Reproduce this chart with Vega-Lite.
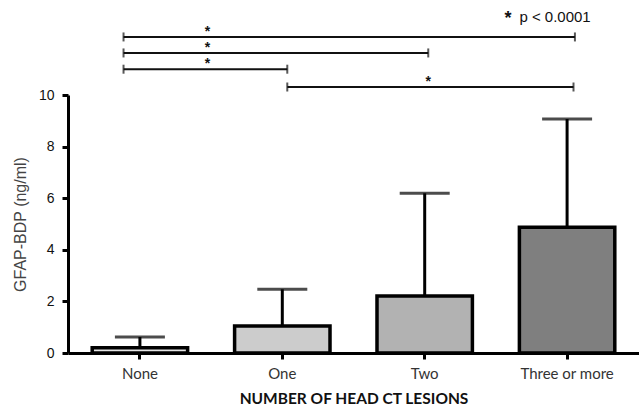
{
  "$schema": "https://vega.github.io/schema/vega-lite/v6.json",
  "width": 571,
  "height": 258,
  "autosize": {"type": "none"},
  "padding": {"left": 68, "top": 95, "right": 0, "bottom": 60},
  "background": "white",
  "config": {"view": {"stroke": null}},
  "resolve": {"scale": {"x": "independent"}},
  "layer": [
    {
      "data": {"values": [
        {"group": "None", "mean": 0.2, "upper": 0.62, "shade": "a"},
        {"group": "One", "mean": 1.05, "upper": 2.47, "shade": "b"},
        {"group": "Two", "mean": 2.21, "upper": 6.19, "shade": "c"},
        {"group": "Three or more", "mean": 4.87, "upper": 9.07, "shade": "d"}
      ]},
      "encoding": {
        "x": {
          "field": "group", "type": "nominal", "sort": null,
          "scale": {"paddingInner": 0.33, "paddingOuter": 0.17},
          "axis": {
            "title": "NUMBER OF HEAD CT LESIONS",
            "labelAngle": 0,
            "labelFont": "Lato", "labelFontSize": 15, "labelColor": "#333",
            "titleFont": "Lato", "titleFontSize": 15.5, "titleFontWeight": "bold", "titleColor": "#111",
            "domainColor": "black", "domainWidth": 3,
            "tickColor": "black", "tickWidth": 3, "tickSize": 6,
            "labelPadding": 7, "titlePadding": 10
          }
        }
      },
      "layer": [
        {
          "mark": {"type": "rule", "strokeWidth": 3, "color": "black"},
          "encoding": {
            "y": {"field": "mean", "type": "quantitative"},
            "y2": {"field": "upper"}
          }
        },
        {
          "mark": {"type": "tick", "orient": "horizontal", "size": 50, "thickness": 3, "color": "black"},
          "encoding": {"y": {"field": "upper", "type": "quantitative"}}
        },
        {
          "mark": {"type": "bar", "stroke": "black", "strokeWidth": 3.5, "opacity": 1},
          "encoding": {
            "y": {
              "field": "mean", "type": "quantitative",
              "scale": {"domain": [0, 10], "nice": false},
              "axis": {
                "title": "GFAP-BDP (ng/ml)",
                "values": [0, 2, 4, 6, 8, 10],
                "grid": false,
                "labelFont": "Liberation Sans", "labelFontSize": 14, "labelColor": "#111",
                "titleFont": "Liberation Sans", "titleFontSize": 16, "titleFontWeight": "normal", "titleColor": "#444",
                "domainColor": "black", "domainWidth": 3,
                "tickColor": "black", "tickWidth": 3, "tickSize": 6,
                "labelPadding": 8, "titlePadding": 10
              }
            },
            "fill": {
              "field": "shade", "type": "nominal", "legend": null,
              "scale": {"domain": ["a", "b", "c", "d"], "range": ["#e5e5e5", "#cccccc", "#b2b2b2", "#7f7f7f"]}
            }
          }
        }
      ]
    },
    {
      "data": {"values": [
        {"x1": 0.39, "x2": 3.56, "y": 12.25, "sx": 0.98, "sy": 12.25},
        {"x1": 0.39, "x2": 2.53, "y": 11.63, "sx": 0.98, "sy": 11.63},
        {"x1": 0.39, "x2": 1.54, "y": 11.0, "sx": 0.98, "sy": 11.0},
        {"x1": 1.54, "x2": 3.55, "y": 10.31, "sx": 2.53, "sy": 10.31}
      ]},
      "layer": [
        {
          "mark": {"type": "rule", "strokeWidth": 2, "color": "#111"},
          "encoding": {
            "x": {"field": "x1", "type": "quantitative", "scale": {"domain": [0, 4.01], "nice": false, "zero": false}, "axis": null},
            "x2": {"field": "x2"},
            "y": {"field": "y", "type": "quantitative"}
          }
        },
        {
          "transform": [{"fold": ["x1", "x2"], "as": ["end", "xe"]}],
          "mark": {"type": "tick", "orient": "vertical", "size": 9, "thickness": 2, "color": "#111"},
          "encoding": {
            "x": {"field": "xe", "type": "quantitative", "scale": {"domain": [0, 4.01], "nice": false, "zero": false}, "axis": null},
            "y": {"field": "y", "type": "quantitative"}
          }
        },
        {
          "mark": {"type": "text", "text": "*", "font": "Liberation Sans", "fontSize": 14, "fontWeight": "bold", "baseline": "alphabetic", "dy": -1, "color": "#111"},
          "encoding": {
            "x": {"field": "sx", "type": "quantitative", "scale": {"domain": [0, 4.01], "nice": false, "zero": false}, "axis": null},
            "y": {"field": "sy", "type": "quantitative"}
          }
        }
      ]
    },
    {
      "data": {"values": [{"star": "*", "label": "p < 0.0001", "sx": 3.09, "x": 3.17, "y": 13.02}]},
      "layer": [
        {
          "mark": {"type": "text", "align": "center", "baseline": "middle", "font": "Liberation Sans", "fontSize": 18, "fontWeight": "bold", "dy": 2, "color": "#111"},
          "encoding": {
            "x": {"field": "sx", "type": "quantitative", "scale": {"domain": [0, 4.01], "nice": false, "zero": false}, "axis": null},
            "y": {"field": "y", "type": "quantitative"},
            "text": {"field": "star"}
          }
        },
        {
          "mark": {"type": "text", "align": "left", "baseline": "middle", "font": "Liberation Sans", "fontSize": 15, "color": "#111"},
          "encoding": {
            "x": {"field": "x", "type": "quantitative", "scale": {"domain": [0, 4.01], "nice": false, "zero": false}, "axis": null},
            "y": {"field": "y", "type": "quantitative"},
            "text": {"field": "label"}
          }
        }
      ]
    }
  ]
}
